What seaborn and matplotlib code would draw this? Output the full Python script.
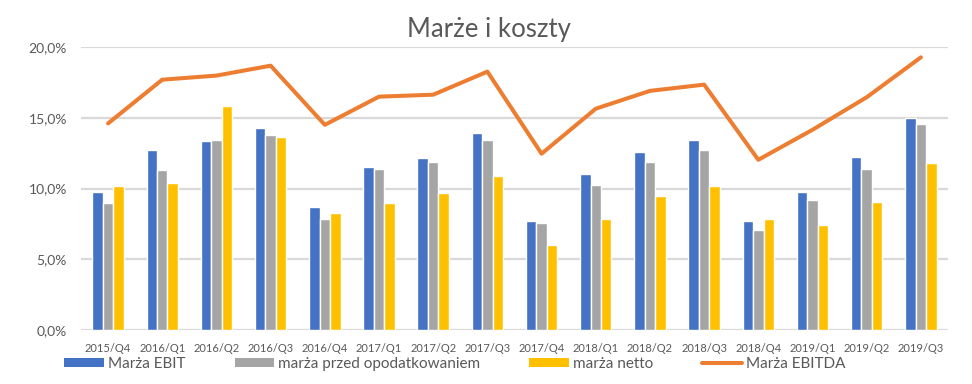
import pandas as pd
import numpy as np
import matplotlib.pyplot as plt
import seaborn as sns
from matplotlib.patches import Patch
from matplotlib.lines import Line2D
from matplotlib.ticker import FuncFormatter

# ----------------------------- DANE -----------------------------
quarters = ["2015/Q4", "2016/Q1", "2016/Q2", "2016/Q3", "2016/Q4",
            "2017/Q1", "2017/Q2", "2017/Q3", "2017/Q4", "2018/Q1",
            "2018/Q2", "2018/Q3", "2018/Q4", "2019/Q1", "2019/Q2", "2019/Q3"]

marza_ebit = [9.77, 12.74, 13.38, 14.30, 8.70, 11.54, 12.17, 13.94,
              7.71, 11.04, 12.60, 13.45, 7.71, 9.77, 12.24, 15.00]
marza_przed_opod = [8.99, 11.32, 13.45, 13.80, 7.86, 11.39, 11.89, 13.45,
                    7.57, 10.26, 11.89, 12.74, 7.08, 9.20, 11.39, 14.58]
marza_netto = [10.19, 10.40, 15.85, 13.66, 8.28, 8.99, 9.70, 10.90,
               6.02, 7.86, 9.48, 10.19, 7.86, 7.43, 9.06, 11.82]
marza_ebitda = [14.60, 17.69, 17.98, 18.68, 14.50, 16.49, 16.63, 18.26,
                12.46, 15.64, 16.90, 17.34, 12.03, 14.15, 16.45, 19.27]

series_names = ["Marża EBIT", "marża przed opodatkowaniem", "marża netto"]
line_name = "Marża EBITDA"

colors = ["#4472C4", "#A5A5A5", "#FFC000"]
line_color = "#ED7D31"
text_color = "#595959"
grid_color = "#D9D9D9"

# ----------------------------- RYSUNEK -----------------------------
sns.set_theme(style="white")
plt.rcParams["font.family"] = ["Lato", "DejaVu Sans"]

df = pd.DataFrame({
    "kwartal": quarters * 3,
    "seria": sum([[n] * len(quarters) for n in series_names], []),
    "wartosc": np.array(marza_ebit + marza_przed_opod + marza_netto) / 100,
})

fig = plt.figure(figsize=(9.72, 3.84), dpi=100)
ax = fig.add_axes([0.0833, 0.1406, 0.8920, 0.737])

sns.barplot(data=df, x="kwartal", y="wartosc", hue="seria", order=quarters,
            hue_order=series_names, palette=colors, width=0.58,
            saturation=1, gap=0, legend=False, ax=ax, zorder=3)

sns.lineplot(x=np.arange(len(quarters)), y=np.array(marza_ebitda) / 100,
             color=line_color, linewidth=2.9, ax=ax, zorder=4)

ax.set_xlim(-0.5, len(quarters) - 0.5)
ax.set_ylim(0, 0.2)
ax.set_yticks([0, 0.05, 0.10, 0.15, 0.20])
ax.yaxis.set_major_formatter(FuncFormatter(lambda v, p: f"{v * 100:.1f}%".replace(".", ",")))
ax.yaxis.grid(True, color=grid_color, linewidth=1.6, zorder=0)
ax.set_axisbelow(True)
for s in ax.spines.values():
    s.set_visible(False)
ax.set_xlabel("")
ax.set_ylabel("")
ax.tick_params(axis="x", labelsize=8, colors=text_color, length=0, pad=9.5)
ax.tick_params(axis="y", labelsize=10, colors=text_color, length=0, pad=10)

fig.text(0.503, 0.922, "Marże i koszty", fontsize=18.5, color=text_color,
         ha="center", va="center")

handles = [Patch(facecolor=c, edgecolor="none") for c in colors]
handles.append(Line2D([0], [0], color=line_color, linewidth=2.9))
fig.legend(handles, series_names + [line_name], loc="lower center",
           bbox_to_anchor=(0.468, 0.006), ncol=4, frameon=False,
           fontsize=11, labelcolor=text_color, handlelength=2.6,
           handleheight=0.55, handletextpad=0.26, columnspacing=3.2,
           borderpad=0.2)

fig.savefig("out.png", dpi=100)
